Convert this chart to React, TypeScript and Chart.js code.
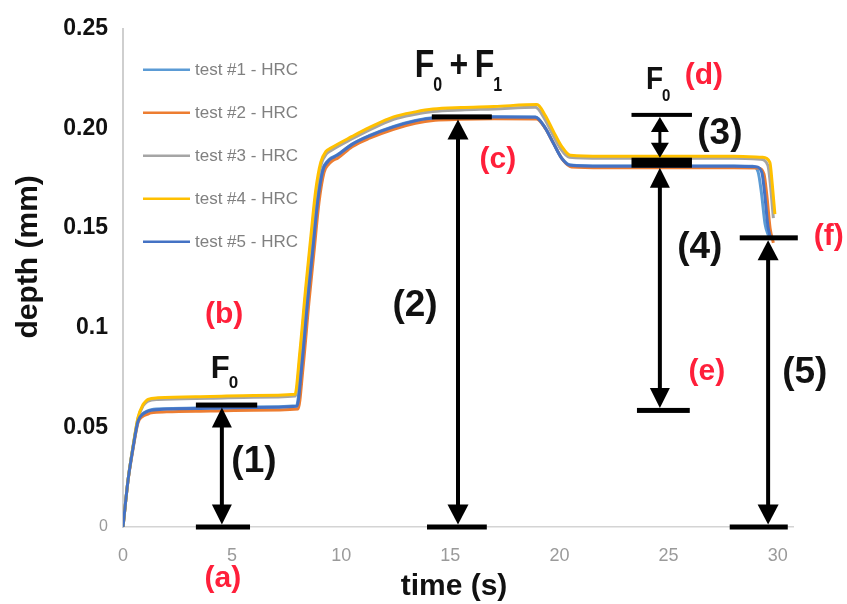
import React, { useEffect, useRef } from "react";
import { Chart, registerables } from "chart.js";

Chart.register(...registerables);

// ---------------- data ----------------
const seriesLabels = ["test #1 - HRC", "test #2 - HRC", "test #3 - HRC", "test #4 - HRC", "test #5 - HRC"];
const seriesColors = ["#5B9BD5", "#ED7D31", "#A5A5A5", "#FFC000", "#4472C4"];

const time1 = [0, 0.23, 0.46, 0.69, 0.92, 1.1, 1.3, 2, 4, 6, 7.95, 8.18, 8.45, 8.68, 8.91, 9.14, 9.37, 9.53, 9.8, 10.5, 11.3, 12.4, 13.4, 14.3, 15.5, 17, 18.9, 19.3, 19.7, 20.1, 20.5, 22, 25, 28, 28.85, 29.1, 29.25, 29.42, 29.58];
const depth1 = [0, 0.0236, 0.04, 0.0535, 0.057, 0.0581, 0.0589, 0.0594, 0.0598, 0.0602, 0.0608, 0.082, 0.115, 0.14, 0.1645, 0.1793, 0.1836, 0.1852, 0.1866, 0.1922, 0.1965, 0.201, 0.204, 0.2055, 0.2058, 0.2059, 0.2058, 0.2012, 0.1932, 0.1852, 0.1817, 0.1812, 0.1812, 0.1812, 0.181, 0.1782, 0.168, 0.152, 0.146];

const time2 = [0, 0.23, 0.46, 0.69, 0.92, 1.1, 1.3, 2, 4, 6, 8.02, 8.25, 8.52, 8.75, 8.98, 9.21, 9.44, 9.6, 9.85, 10.5, 11.3, 12.4, 13.4, 14.3, 15.5, 17, 18.95, 19.35, 19.75, 20.15, 20.55, 22, 25, 28, 29.1, 29.37, 29.5, 29.65, 29.8];
const depth2 = [0, 0.023, 0.0392, 0.0524, 0.0556, 0.0565, 0.0573, 0.0578, 0.0582, 0.0586, 0.0592, 0.08, 0.1128, 0.1378, 0.1628, 0.1778, 0.1822, 0.1838, 0.1852, 0.1908, 0.1951, 0.1996, 0.2026, 0.2041, 0.2046, 0.2048, 0.2047, 0.2, 0.192, 0.1842, 0.1807, 0.1803, 0.1803, 0.1803, 0.1801, 0.1772, 0.1665, 0.15, 0.1426];

const time3 = [0, 0.23, 0.46, 0.69, 0.92, 1.05, 1.15, 1.6, 4, 6, 7.9, 8.12, 8.39, 8.62, 8.85, 9.08, 9.32, 9.52, 10.5, 11.3, 12.4, 13.4, 14.2, 15.5, 17, 18.9, 19.3, 19.65, 20.05, 20.45, 22, 25, 28, 29.2, 29.55, 29.68, 29.8];
const depth3 = [0, 0.0235, 0.0403, 0.0546, 0.0608, 0.0624, 0.0632, 0.064, 0.0646, 0.0651, 0.0657, 0.0865, 0.119, 0.144, 0.168, 0.182, 0.1872, 0.1888, 0.1948, 0.1993, 0.2046, 0.2071, 0.2085, 0.2093, 0.2098, 0.2106, 0.2052, 0.1978, 0.1898, 0.1855, 0.185, 0.185, 0.185, 0.1845, 0.1815, 0.17, 0.155];

const time4 = [0, 0.23, 0.46, 0.69, 0.92, 1.05, 1.15, 1.6, 4, 6, 7.88, 8.1, 8.37, 8.6, 8.83, 9.06, 9.3, 9.5, 10.5, 11.3, 12.4, 13.4, 14.2, 15.5, 17, 18.97, 19.35, 19.7, 20.1, 20.5, 22, 25, 28, 29.3, 29.64, 29.75, 29.87];
const depth4 = [0, 0.0236, 0.0405, 0.055, 0.0615, 0.0632, 0.064, 0.0648, 0.0655, 0.066, 0.0666, 0.0875, 0.12, 0.145, 0.169, 0.183, 0.1885, 0.19, 0.196, 0.2005, 0.2058, 0.2083, 0.2097, 0.2105, 0.211, 0.212, 0.2065, 0.199, 0.191, 0.1865, 0.186, 0.186, 0.186, 0.1855, 0.183, 0.172, 0.157];

const time5 = [0, 0.23, 0.46, 0.69, 0.92, 1.1, 1.3, 2, 4, 6, 7.97, 8.2, 8.47, 8.7, 8.93, 9.16, 9.39, 9.55, 9.8, 10.5, 11.3, 12.4, 13.4, 14.3, 15.5, 17, 18.9, 19.3, 19.7, 20.1, 20.5, 22, 25, 28, 29.0, 29.27, 29.4, 29.55, 29.68];
const depth5 = [0, 0.0234, 0.0398, 0.0532, 0.0567, 0.0579, 0.0586, 0.0592, 0.0596, 0.06, 0.0606, 0.0815, 0.1143, 0.1392, 0.164, 0.179, 0.1834, 0.185, 0.1864, 0.192, 0.1963, 0.2008, 0.2038, 0.2053, 0.2056, 0.2057, 0.2056, 0.201, 0.193, 0.185, 0.1815, 0.181, 0.181, 0.181, 0.1808, 0.178, 0.1675, 0.151, 0.1446];

const timeSeries = [time1, time2, time3, time4, time5];
const depthSeries = [depth1, depth2, depth3, depth4, depth5];

const xTickValues = [0, 5, 10, 15, 20, 25, 30];
const yTickValues = [0, 0.05, 0.1, 0.15, 0.2, 0.25];
const yTickLabels = ["0", "0.05", "0.1", "0.15", "0.20", "0.25"];

const xTitle = "time (s)";
const yTitle = "depth (mm)";

// annotation bars (time from, time to, depth)
const barStart = [3.34, 3.34, 14.15, 13.93, 23.3, 23.3, 23.55, 28.26, 27.8];
const barEnd = [6.15, 5.82, 16.9, 16.67, 26.07, 26.07, 25.97, 30.92, 30.46];
const barDepth = [0.0612, 0, 0.2058, 0, 0.2068, 0.1828, 0.0585, 0.1451, 0];

// annotation double arrows (time, upper depth, lower depth)
const arrowTime = [4.53, 15.35, 24.6, 24.6, 29.56];
const arrowUpper = [0.0612, 0.2058, 0.2068, 0.1828, 0.1451];
const arrowLower = [0, 0, 0.1828, 0.0585, 0];

// red point letters
const markLabels = ["(a)", "(b)", "(c)", "(d)", "(e)", "(f)"];
const markTime = [4.58, 4.63, 17.18, 26.62, 26.75, 32.34];
const markDepth = [-0.0263, 0.1064, 0.1839, 0.2261, 0.0775, 0.1456];

// step numbers
const stepLabels = ["(1)", "(2)", "(3)", "(4)", "(5)"];
const stepTime = [6.0, 13.38, 27.35, 26.43, 31.24];
const stepDepth = [0.0323, 0.1108, 0.1968, 0.1397, 0.077];

// force labels: main letters with subscripts
const forceParts = [
  [["F", "0"]],
  [["F", "0"], ["+", ""], ["F", "1"]],
  [["F", "0"]],
];
const forceTime = [4.12, 13.47, 24.05];
const forceDepth = [0.0746, 0.2256, 0.2197];

// ---------------- styles ----------------
const FONT = '"Liberation Sans", Arial, Helvetica, sans-serif';
const RED = "#ff1f3a";
const INK = "#111111";

const barWeight = [5, 5, 5, 5, 4, 10, 5, 5, 5];
const arrowInsetTop = [2.5, 2.5, 2, 5, 2.5];
const arrowInsetBottom = [2.5, 2.5, 5, 2.5, 2.5];
const arrowHeadLen = [20, 20, 15, 20, 20];
const arrowHeadWidth = [20, 21, 18, 20, 21];
const forceSize = [31, 32, 28];
const forceStretch = [1.0, 1.22, 1.15];
const forceSubSize = [17, 16, 15];
const forceSubDrop = [10, 11.5, 10.5];

const annotationPlugin = {
  id: "indentAnnotations",
  afterDatasetsDraw(chart: any) {
    const ctx: CanvasRenderingContext2D = chart.ctx;
    const xs = chart.scales.x;
    const ys = chart.scales.y;
    const X = (t: number) => xs.getPixelForValue(t);
    const Y = (d: number) => ys.getPixelForValue(d);
    const area = chart.chartArea;
    ctx.save();

    // arrows
    arrowTime.forEach((t, i) => {
      const x = X(t);
      const yTop = Y(arrowUpper[i]) + arrowInsetTop[i];
      const yBot = Y(arrowLower[i]) - arrowInsetBottom[i];
      const h = arrowHeadLen[i];
      const w = arrowHeadWidth[i];
      ctx.strokeStyle = "#000";
      ctx.lineWidth = i === 2 ? 3 : 4;
      ctx.beginPath();
      ctx.moveTo(x, yTop + h * 0.8);
      ctx.lineTo(x, yBot - h * 0.8);
      ctx.stroke();
      ctx.fillStyle = "#000";
      ctx.beginPath();
      ctx.moveTo(x, yTop);
      ctx.lineTo(x - w / 2, yTop + h);
      ctx.lineTo(x + w / 2, yTop + h);
      ctx.closePath();
      ctx.fill();
      ctx.beginPath();
      ctx.moveTo(x, yBot);
      ctx.lineTo(x - w / 2, yBot - h);
      ctx.lineTo(x + w / 2, yBot - h);
      ctx.closePath();
      ctx.fill();
    });

    // bars
    barStart.forEach((t0, i) => {
      const y = Y(barDepth[i]);
      const wt = barWeight[i];
      ctx.fillStyle = "#000";
      ctx.fillRect(X(t0), y - wt / 2, X(barEnd[i]) - X(t0), wt);
    });

    // red letters
    ctx.fillStyle = RED;
    ctx.textAlign = "center";
    ctx.textBaseline = "alphabetic";
    ctx.font = `bold 30px ${FONT}`;
    markLabels.forEach((s, i) => {
      ctx.fillText(s, X(markTime[i]), Y(markDepth[i]) + 0.26 * 30);
    });

    // step numbers
    ctx.fillStyle = INK;
    ctx.font = `bold 37px ${FONT}`;
    stepLabels.forEach((s, i) => {
      ctx.fillText(s, X(stepTime[i]), Y(stepDepth[i]) + 0.26 * 37);
    });

    // force labels
    ctx.textAlign = "left";
    forceParts.forEach((parts, i) => {
      const size = forceSize[i];
      const sub = forceSubSize[i];
      ctx.save();
      ctx.translate(X(forceTime[i]) - 0.07 * size, Y(forceDepth[i]));
      ctx.scale(1, forceStretch[i]);
      let cx = 0;
      parts.forEach(([main, s]) => {
        ctx.font = `bold ${size}px ${FONT}`;
        if (main === "+") {
          cx += 0.2 * size;
          ctx.fillText("+", cx, -0.02 * size);
          cx += ctx.measureText("+").width + 0.2 * size;
        } else {
          ctx.fillText(main, cx, 0);
          cx += ctx.measureText(main).width;
        }
        if (s) {
          ctx.font = `bold ${sub}px ${FONT}`;
          ctx.fillText(s, cx - 1, forceSubDrop[i]);
          cx += ctx.measureText(s).width;
        }
      });
      ctx.restore();
    });

    // legend (inside plot, top-left)
    const lx = area.left + 20;
    const ly = area.top + 41;
    ctx.font = `17px ${FONT}`;
    ctx.textBaseline = "middle";
    seriesLabels.forEach((s, i) => {
      const y = ly + i * 43;
      ctx.strokeStyle = seriesColors[i];
      ctx.lineWidth = 2.5;
      ctx.beginPath();
      ctx.moveTo(lx, y);
      ctx.lineTo(lx + 47, y);
      ctx.stroke();
      ctx.fillStyle = "#808080";
      ctx.fillText(s, lx + 52, y + 1);
    });

    // axis titles
    ctx.fillStyle = INK;
    ctx.font = `bold 30px ${FONT}`;
    ctx.textAlign = "center";
    ctx.textBaseline = "alphabetic";
    ctx.fillText(xTitle, area.left + 331, area.bottom + 60 + 0.26 * 30);
    ctx.save();
    ctx.translate(area.left - 94 + 0.26 * 30, area.top + 228);
    ctx.rotate(-Math.PI / 2);
    ctx.fillText(yTitle, 0, 0);
    ctx.restore();

    ctx.restore();
  },
};

export default function App() {
  const ref = useRef<HTMLCanvasElement>(null);
  useEffect(() => {
    document.body.style.margin = "0";
    const datasets = seriesLabels.map((label, i) => ({
      label,
      data: timeSeries[i].map((t, j) => ({ x: t, y: depthSeries[i][j] })),
      borderColor: seriesColors[i],
      backgroundColor: seriesColors[i],
      borderWidth: 3,
      pointRadius: 0,
      fill: false,
      cubicInterpolationMode: "monotone" as const,
      order: 4 - i,
    }));
    const chart = new Chart(ref.current as HTMLCanvasElement, {
      type: "line",
      data: { datasets },
      options: {
        animation: false,
        responsive: true,
        maintainAspectRatio: false,
        layout: { padding: { top: 24, right: 54, left: 0, bottom: 0 } },
        plugins: { legend: { display: false }, tooltip: { enabled: false } },
        scales: {
          x: {
            type: "linear",
            min: 0,
            max: 30.7,
            afterFit: (s: any) => {
              s.height = 77;
            },
            afterBuildTicks: (s: any) => {
              s.ticks = xTickValues.map((v) => ({ value: v }));
            },
            grid: { display: true, color: "transparent", drawTicks: false },
            border: { display: true, color: "#d4d4d4", width: 1.5 },
            ticks: {
              padding: 18,
              autoSkip: false,
              maxRotation: 0,
              color: "#9a9a9a",
              font: { family: FONT, size: 18 },
            },
          },
          y: {
            type: "linear",
            min: 0,
            max: 0.25,
            afterFit: (s: any) => {
              s.width = 123;
            },
            afterBuildTicks: (s: any) => {
              s.ticks = yTickValues.map((v) => ({ value: v }));
            },
            grid: { display: true, color: "transparent", drawTicks: false },
            border: { display: true, color: "#cfcfcf", width: 2 },
            ticks: {
              padding: 15,
              autoSkip: false,
              callback: (v: any) => {
                const k = yTickValues.findIndex((t) => Math.abs(t - Number(v)) < 1e-9);
                return k >= 0 ? yTickLabels[k] : "";
              },
              color: (c: any) => (c.tick && Math.abs(c.tick.value) < 1e-9 ? "#9a9a9a" : INK),
              font: (c: any) =>
                c.tick && Math.abs(c.tick.value) < 1e-9
                  ? { family: FONT, size: 16, weight: "normal" }
                  : { family: FONT, size: 23, weight: "bold" },
            },
          },
        },
      },
      plugins: [annotationPlugin],
    } as any);
    return () => chart.destroy();
  }, []);
  return (
    <div style={{ width: 847, height: 604, position: "relative" }}>
      <canvas ref={ref} />
    </div>
  );
}
